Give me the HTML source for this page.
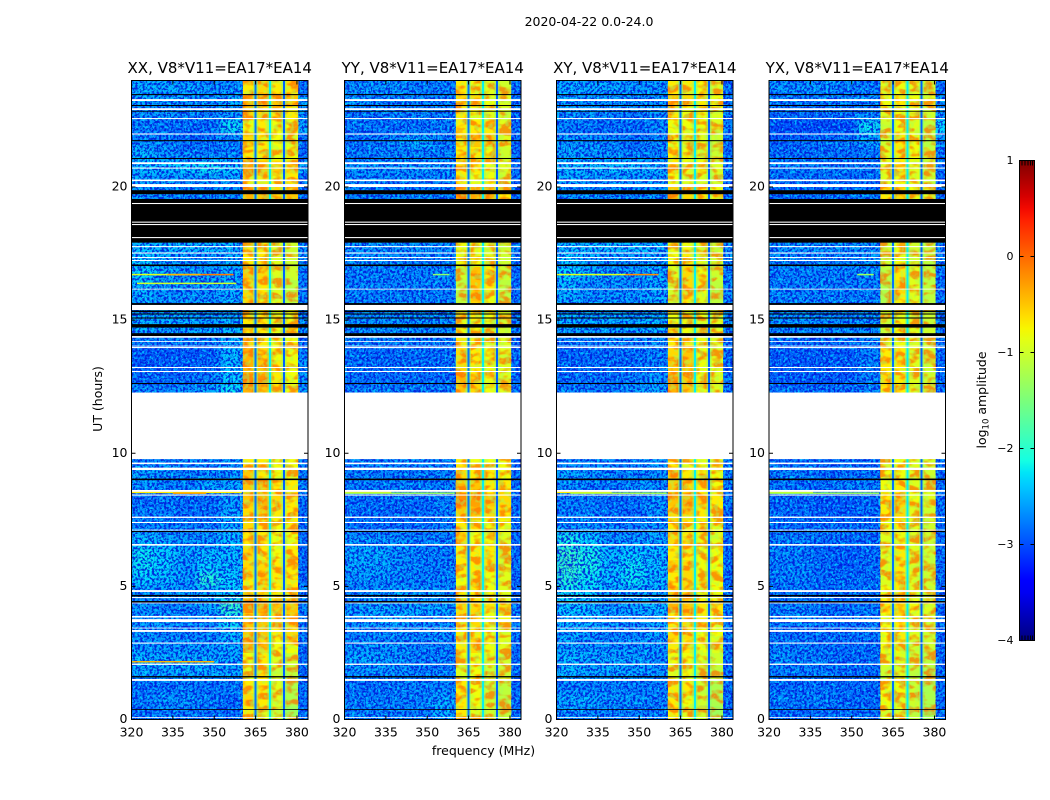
<!DOCTYPE html>
<html lang="en">
<head>
<meta charset="utf-8">
<title>2020-04-22 spectrogram panels</title>
<style>
html,body{margin:0;padding:0;background:#fff;width:1050px;height:800px;overflow:hidden}
svg{display:block;font-family:"DejaVu Sans","Liberation Sans",sans-serif;fill:#000}
</style>
</head>
<body>
<svg id="chart" xmlns="http://www.w3.org/2000/svg" width="1050" height="800" viewBox="0 0 1050 800">
<defs>
<filter id="speckDark" x="0" y="0" width="1" height="1" color-interpolation-filters="sRGB">
<feTurbulence type="fractalNoise" baseFrequency="0.42" numOctaves="2" seed="4"/>
<feColorMatrix type="matrix" values="0 0 0 0 0  0 0 0 0 0.08  0 0 0 0 0.85  6 0 0 0 -2.7"/>
</filter>
<filter id="speckLight" x="0" y="0" width="1" height="1" color-interpolation-filters="sRGB">
<feTurbulence type="fractalNoise" baseFrequency="0.38" numOctaves="2" seed="11"/>
<feColorMatrix type="matrix" values="0 0 0 0 0  0 0 0 0 0.85  0 0 0 0 1  0 6 0 0 -2.9"/>
</filter>
<filter id="blobOrange" x="0" y="0" width="1" height="1" color-interpolation-filters="sRGB">
<feTurbulence type="fractalNoise" baseFrequency="0.08 0.14" numOctaves="2" seed="7"/>
<feColorMatrix type="matrix" values="0 0 0 0 1  0 0 0 0 0.42  0 0 0 0 0  6 0 0 0 -2.7"/>
</filter>
<filter id="blobGreen" x="0" y="0" width="1" height="1" color-interpolation-filters="sRGB">
<feTurbulence type="fractalNoise" baseFrequency="0.2" numOctaves="2" seed="19"/>
<feColorMatrix type="matrix" values="0 0 0 0 0.65  0 0 0 0 1  0 0 0 0 0.35  0 6 0 0 -3"/>
</filter>
<filter id="smooth" x="-5%" y="-5%" width="110%" height="110%" color-interpolation-filters="sRGB">
<feGaussianBlur stdDeviation="3.2"/>
</filter>
<linearGradient id="jetGradient" x1="0" y1="1" x2="0" y2="0"></linearGradient>
</defs>
<text x="589" y="26" font-size="12.5" text-anchor="middle">2020-04-22 0.0-24.0</text>
<text x="483.500" y="755" font-size="12.5" text-anchor="middle">frequency (MHz)</text>
<text transform="translate(102,399) rotate(-90)" font-size="12.5" text-anchor="middle">UT (hours)</text>
<g id="panels"></g>
<g id="colorbar"></g>
</svg>
<script>
const panelNames = ["XX", "YY", "XY", "YX"];
const panelTitleSuffix = ", V8*V11=EA17*EA14";
const xTicks = [320, 335, 350, 365, 380];
const yTicks = [0, 5, 10, 15, 20];
const colorbarTicks = [1, 0, -1, -2, -3, -4];
const freqEdges = [320, 328, 336, 344, 352, 360.4, 365.2, 370.4, 375.5, 380.4, 384];
const notchFreqs = [365, 370.2, 375.3];
const notchLevels = [-2.8, -2.2, -2.9];
const notchShoulderLevel = -1.5;
const rowStartsUT = [23.5,23,22.5,22,21.5,21,20.5,20,19.5,17.5,17,16.5,16,15.5,15,14.5,14,13.5,13,12.5,12,9.5,9,8.5,8,7.5,7,6.5,6,5.5,5,4.5,4,3.5,3,2.5,2,1.5,1,0.5,0];
const rowSpanHours = 0.5;

const levelsXX = [
[-2.5,-2.5,-2.5,-2.6,-2.6,-0.7,-0.6,-0.7,-0.7,-2.8],
[-2.5,-2.6,-2.6,-2.6,-2.5,-0.4,-0.3,-0.5,-0.5,-2.5],
[-2.6,-2.6,-2.7,-2.7,-2.6,-0.6,-0.6,-0.7,-0.7,-2.6],
[-2.7,-2.8,-2.8,-2.8,-2.2,-0.8,-0.7,-0.8,-0.8,-2.5],
[-2.7,-2.7,-2.8,-2.8,-2.7,-0.6,-0.7,-0.8,-0.9,-2.8],
[-2.4,-2.6,-2.7,-2.7,-2.7,-0.7,-0.7,-0.8,-0.8,-2.8],
[-2.4,-2.4,-2.3,-2.2,-2.3,-0.3,-0.5,-0.6,-0.6,-2.5],
[-2.5,-2.6,-2.6,-2.6,-2.6,-0.7,-0.7,-0.8,-0.7,-2.8],
[-2.6,-2.6,-2.7,-2.7,-2.6,-0.4,-0.5,-0.6,-0.5,-2.8],
[-2.4,-2.4,-2.4,-2.4,-2.4,-0.7,-0.7,-0.9,-1.0,-2.6],
[-2.3,-2.5,-2.6,-2.6,-2.5,-0.7,-0.7,-0.9,-1.0,-2.6],
[-2.3,-2.5,-2.6,-2.6,-2.5,-0.5,-0.6,-0.9,-1.0,-2.7],
[-2.4,-2.6,-2.6,-2.6,-2.5,-0.6,-0.7,-0.9,-1.1,-2.7],
[-2.5,-2.6,-2.6,-2.6,-2.5,-0.6,-0.8,-0.9,-1.1,-2.7],
[-2.5,-2.5,-2.5,-2.6,-2.5,-0.6,-0.7,-0.8,-0.8,-2.7],
[-2.4,-2.5,-2.5,-2.5,-2.4,-0.7,-0.7,-0.8,-0.8,-2.6],
[-2.7,-2.7,-2.7,-2.7,-2.5,-0.6,-0.7,-0.8,-0.8,-2.8],
[-2.9,-2.9,-2.9,-2.9,-2.4,-0.4,-0.6,-0.8,-0.8,-2.7],
[-2.9,-2.9,-2.9,-2.8,-2.4,-0.4,-0.5,-0.7,-0.8,-2.6],
[-2.8,-2.8,-2.8,-2.7,-2.3,-0.2,-0.3,-0.7,-0.8,-2.6],
[-2.7,-2.7,-2.6,-2.5,-2.2,-0.4,-0.5,-0.7,-0.8,-2.6],
[-2.7,-2.7,-2.7,-2.7,-2.6,-0.7,-0.7,-0.8,-0.8,-2.7],
[-2.5,-2.6,-2.7,-2.7,-2.6,-0.5,-0.7,-0.8,-0.8,-2.7],
[-2.6,-2.7,-2.7,-2.5,-2.5,-0.5,-0.5,-0.7,-0.7,-2.7],
[-2.8,-2.7,-2.8,-2.8,-2.6,-0.5,-0.4,-0.6,-0.7,-2.7],
[-2.7,-2.7,-2.8,-2.8,-2.5,-0.6,-0.5,-0.7,-0.7,-2.8],
[-2.7,-2.7,-2.7,-2.7,-2.5,-0.6,-0.7,-0.8,-0.7,-2.8],
[-2.4,-2.5,-2.6,-2.6,-2.4,-0.7,-0.7,-0.8,-0.8,-2.8],
[-2.2,-2.3,-2.5,-2.4,-2.4,-0.6,-0.7,-0.8,-0.7,-2.8],
[-2.2,-2.3,-2.6,-2.3,-2.4,-0.6,-0.6,-0.7,-0.7,-2.8],
[-2.3,-2.4,-2.6,-2.0,-2.3,-0.7,-0.6,-0.7,-0.7,-2.8],
[-2.6,-2.6,-2.6,-2.5,-2.3,-0.6,-0.6,-0.7,-0.7,-2.7],
[-2.6,-2.7,-2.7,-2.5,-1.9,-0.2,-0.4,-0.5,-0.5,-2.7],
[-2.6,-2.5,-2.7,-2.6,-2.2,-0.5,-0.5,-0.6,-0.6,-2.7],
[-2.6,-2.7,-2.7,-2.7,-2.4,-0.5,-0.5,-0.7,-0.6,-2.7],
[-2.6,-2.6,-2.6,-2.6,-2.5,-0.4,-0.6,-0.8,-0.8,-2.8],
[-2.4,-2.5,-2.5,-2.5,-2.5,-0.8,-0.7,-0.9,-1.0,-2.8],
[-2.5,-2.5,-2.5,-2.5,-2.5,-0.9,-0.7,-1.0,-1.1,-2.8],
[-2.8,-2.8,-2.7,-2.8,-2.7,-0.7,-0.7,-0.9,-1.2,-2.8],
[-2.7,-2.6,-2.6,-2.7,-2.8,-0.6,-0.7,-0.9,-1.2,-2.8],
[-2.8,-2.7,-2.7,-2.8,-2.8,-0.7,-0.9,-1.0,-1.3,-2.8]
];
const levelsYY = [
[-2.6,-2.6,-2.6,-2.7,-2.7,-0.7,-0.8,-0.9,-1.0,-2.8],
[-2.6,-2.7,-2.7,-2.7,-2.7,-0.6,-0.6,-0.8,-0.9,-2.8],
[-2.7,-2.7,-2.7,-2.7,-2.7,-0.7,-0.8,-0.9,-1.0,-2.8],
[-2.7,-2.8,-2.8,-2.8,-2.7,-0.7,-0.7,-0.7,-0.9,-2.8],
[-2.8,-2.7,-2.6,-2.4,-2.7,-0.7,-0.5,-0.5,-0.9,-2.8],
[-2.7,-2.7,-2.7,-2.7,-2.7,-0.7,-0.7,-0.8,-1.0,-2.8],
[-2.6,-2.6,-2.6,-2.6,-2.6,-0.7,-0.7,-0.8,-0.9,-2.8],
[-2.7,-2.7,-2.7,-2.7,-2.7,-0.7,-0.8,-0.8,-1.0,-2.8],
[-2.7,-2.7,-2.7,-2.7,-2.7,-0.3,-0.4,-0.5,-0.7,-2.8],
[-2.6,-2.6,-2.6,-2.6,-2.6,-0.8,-0.8,-0.9,-1.0,-2.7],
[-2.6,-2.6,-2.7,-2.7,-2.7,-0.8,-0.8,-0.9,-1.0,-2.7],
[-2.7,-2.7,-2.7,-2.7,-2.6,-1.0,-0.5,-0.7,-1.0,-2.8],
[-2.7,-2.7,-2.7,-2.7,-2.7,-1.1,-0.5,-0.7,-1.1,-2.8],
[-2.7,-2.7,-2.7,-2.7,-2.7,-1.1,-0.6,-0.8,-1.1,-2.8],
[-2.6,-2.6,-2.6,-2.6,-2.6,-0.7,-0.7,-0.8,-0.9,-2.8],
[-2.6,-2.6,-2.6,-2.6,-2.6,-0.8,-0.8,-0.9,-1.0,-2.7],
[-2.7,-2.7,-2.7,-2.7,-2.7,-0.7,-0.7,-0.9,-0.9,-2.8],
[-2.8,-2.8,-2.8,-2.8,-2.8,-0.6,-0.7,-0.8,-0.9,-2.8],
[-2.8,-2.8,-2.8,-2.8,-2.8,-0.6,-0.7,-0.8,-0.9,-2.8],
[-2.8,-2.8,-2.8,-2.8,-2.8,-0.4,-0.6,-0.8,-0.9,-2.8],
[-2.7,-2.7,-2.7,-2.7,-2.7,-0.5,-0.6,-0.8,-0.9,-2.8],
[-2.7,-2.7,-2.7,-2.7,-2.7,-0.7,-0.8,-0.8,-0.8,-2.8],
[-2.7,-2.7,-2.7,-2.7,-2.7,-0.6,-0.7,-0.7,-0.8,-2.8],
[-2.7,-2.7,-2.7,-2.7,-2.7,-0.5,-0.5,-0.7,-0.7,-2.8],
[-2.8,-2.8,-2.8,-2.8,-2.7,-0.2,-0.3,-0.5,-0.6,-2.8],
[-2.8,-2.8,-2.8,-2.8,-2.7,-0.5,-0.5,-0.6,-0.7,-2.8],
[-2.8,-2.8,-2.8,-2.8,-2.7,-0.7,-0.7,-0.8,-0.8,-2.8],
[-2.6,-2.6,-2.6,-2.7,-2.7,-0.6,-0.8,-0.8,-0.9,-2.8],
[-2.5,-2.5,-2.6,-2.7,-2.7,-0.7,-0.7,-0.7,-0.9,-2.8],
[-2.5,-2.5,-2.6,-2.7,-2.7,-0.7,-0.7,-0.7,-0.9,-2.8],
[-2.6,-2.6,-2.7,-2.7,-2.7,-0.8,-0.7,-0.8,-0.9,-2.8],
[-2.7,-2.6,-2.5,-2.6,-2.6,-0.7,-0.7,-0.8,-0.9,-2.8],
[-2.6,-2.5,-2.6,-2.5,-2.5,-0.6,-0.6,-0.7,-0.8,-2.7],
[-2.6,-2.5,-2.4,-2.6,-2.6,-0.6,-0.6,-0.8,-0.8,-2.7],
[-2.7,-2.7,-2.7,-2.7,-2.6,-0.7,-0.7,-0.8,-0.9,-2.7],
[-2.6,-2.6,-2.6,-2.7,-2.7,-0.7,-0.6,-0.8,-0.9,-2.8],
[-2.5,-2.5,-2.6,-2.7,-2.7,-0.8,-0.8,-0.9,-1.0,-2.8],
[-2.6,-2.6,-2.6,-2.7,-2.7,-0.9,-0.8,-1.0,-1.0,-2.8],
[-2.8,-2.8,-2.7,-2.7,-2.7,-0.7,-0.8,-1.0,-1.1,-2.8],
[-2.7,-2.7,-2.7,-2.7,-2.5,-0.7,-0.8,-1.0,-1.1,-2.8],
[-2.7,-2.7,-2.7,-2.7,-2.5,-0.7,-0.9,-1.0,-1.1,-2.8]
];
const levelsXY = [
[-2.5,-2.5,-2.5,-2.6,-2.6,-0.7,-0.7,-0.8,-0.9,-2.8],
[-2.5,-2.6,-2.6,-2.6,-2.6,-0.5,-0.6,-0.7,-0.8,-2.7],
[-2.6,-2.6,-2.7,-2.7,-2.6,-0.7,-0.8,-0.8,-0.9,-2.7],
[-2.7,-2.8,-2.8,-2.8,-2.7,-0.8,-0.8,-0.8,-0.9,-2.7],
[-2.6,-2.6,-2.7,-2.8,-2.7,-0.8,-0.9,-0.9,-1.0,-2.8],
[-2.5,-2.6,-2.6,-2.7,-2.7,-0.7,-0.8,-0.9,-1.0,-2.8],
[-2.4,-2.4,-2.4,-2.4,-2.5,-0.7,-0.8,-0.8,-0.9,-2.7],
[-2.5,-2.6,-2.6,-2.6,-2.6,-0.8,-0.9,-0.9,-1.0,-2.8],
[-2.6,-2.6,-2.7,-2.7,-2.6,-0.5,-0.6,-0.7,-0.8,-2.8],
[-2.4,-2.4,-2.4,-2.4,-2.4,-0.8,-0.8,-0.9,-1.0,-2.6],
[-2.3,-2.5,-2.6,-2.6,-2.5,-0.8,-0.7,-0.9,-1.0,-2.6],
[-2.3,-2.5,-2.6,-2.6,-2.5,-0.9,-0.6,-0.8,-1.0,-2.7],
[-2.4,-2.6,-2.6,-2.6,-2.5,-1.0,-0.6,-0.8,-1.1,-2.7],
[-2.5,-2.6,-2.6,-2.6,-2.5,-1.0,-0.7,-0.9,-1.1,-2.7],
[-2.5,-2.5,-2.5,-2.6,-2.5,-0.8,-0.8,-0.8,-0.9,-2.7],
[-2.4,-2.5,-2.5,-2.5,-2.4,-0.8,-0.8,-0.9,-0.9,-2.6],
[-2.7,-2.7,-2.7,-2.7,-2.6,-0.7,-0.7,-0.8,-0.9,-2.8],
[-2.9,-2.8,-2.8,-2.8,-2.7,-0.6,-0.5,-0.8,-0.9,-2.8],
[-2.8,-2.8,-2.8,-2.8,-2.7,-0.5,-0.5,-0.8,-0.9,-2.8],
[-2.8,-2.8,-2.8,-2.7,-2.6,-0.3,-0.5,-0.8,-0.9,-2.7],
[-2.7,-2.7,-2.7,-2.6,-2.5,-0.4,-0.5,-0.8,-0.9,-2.7],
[-2.7,-2.7,-2.7,-2.7,-2.6,-0.7,-0.8,-0.8,-0.8,-2.7],
[-2.5,-2.6,-2.7,-2.7,-2.6,-0.5,-0.7,-0.8,-0.8,-2.7],
[-2.6,-2.7,-2.7,-2.6,-2.6,-0.5,-0.6,-0.7,-0.8,-2.7],
[-2.7,-2.7,-2.8,-2.8,-2.6,-0.5,-0.4,-0.6,-0.7,-2.7],
[-2.7,-2.7,-2.8,-2.8,-2.6,-0.6,-0.6,-0.7,-0.8,-2.8],
[-2.6,-2.6,-2.7,-2.7,-2.6,-0.7,-0.7,-0.8,-0.8,-2.8],
[-2.1,-2.3,-2.6,-2.6,-2.5,-0.6,-0.7,-0.8,-0.9,-2.8],
[-1.9,-2.1,-2.4,-2.3,-2.4,-0.7,-0.7,-0.8,-0.8,-2.8],
[-1.9,-2.1,-2.4,-2.2,-2.4,-0.6,-0.6,-0.8,-0.8,-2.8],
[-2.0,-2.2,-2.4,-2.2,-2.4,-0.7,-0.6,-0.8,-0.8,-2.8],
[-2.2,-2.3,-2.5,-2.5,-2.5,-0.5,-0.6,-0.8,-0.8,-2.7],
[-2.3,-2.4,-2.6,-2.5,-2.4,-0.4,-0.5,-0.7,-0.7,-2.7],
[-2.4,-2.4,-2.6,-2.6,-2.5,-0.7,-0.6,-0.7,-0.8,-2.7],
[-2.5,-2.6,-2.7,-2.7,-2.5,-0.6,-0.6,-0.8,-0.8,-2.7],
[-2.5,-2.6,-2.6,-2.6,-2.6,-0.7,-0.7,-0.8,-0.9,-2.8],
[-2.4,-2.5,-2.5,-2.5,-2.6,-0.8,-0.8,-0.9,-1.0,-2.8],
[-2.4,-2.5,-2.5,-2.5,-2.6,-0.9,-0.8,-1.0,-1.1,-2.8],
[-2.7,-2.7,-2.7,-2.7,-2.7,-0.7,-0.7,-1.0,-1.2,-2.8],
[-2.5,-2.5,-2.6,-2.6,-2.7,-0.7,-0.8,-1.0,-1.2,-2.8],
[-2.6,-2.6,-2.7,-2.7,-2.7,-0.7,-0.9,-1.0,-1.3,-2.8]
];
const levelsYX = [
[-2.6,-2.6,-2.6,-2.7,-2.7,-0.9,-0.8,-0.9,-1.0,-2.8],
[-2.7,-2.7,-2.7,-2.7,-2.6,-0.8,-0.7,-0.8,-0.9,-2.6],
[-2.8,-2.8,-2.8,-2.8,-2.7,-0.9,-0.8,-0.9,-1.0,-2.6],
[-3.0,-3.0,-3.0,-3.0,-2.2,-1.0,-0.8,-0.9,-1.1,-2.3],
[-2.9,-2.8,-2.8,-2.7,-2.5,-1.0,-0.7,-0.8,-1.1,-2.6],
[-2.8,-2.8,-2.8,-2.8,-2.8,-0.9,-0.7,-0.8,-1.0,-2.8],
[-2.7,-2.7,-2.7,-2.7,-2.7,-0.9,-0.7,-0.9,-1.0,-2.8],
[-2.8,-2.8,-2.8,-2.8,-2.8,-0.9,-0.8,-0.9,-1.0,-2.8],
[-2.8,-2.8,-2.8,-2.8,-2.7,-0.7,-0.6,-0.8,-0.9,-2.8],
[-2.6,-2.6,-2.6,-2.6,-2.6,-1.0,-0.8,-1.0,-1.1,-2.7],
[-2.6,-2.7,-2.7,-2.7,-2.6,-1.0,-0.8,-1.0,-1.1,-2.7],
[-2.7,-2.7,-2.7,-2.7,-2.6,-1.1,-0.7,-0.9,-1.1,-2.8],
[-2.7,-2.7,-2.7,-2.7,-2.7,-1.2,-0.6,-0.9,-1.1,-2.8],
[-2.7,-2.7,-2.7,-2.7,-2.7,-1.2,-0.7,-0.9,-1.1,-2.8],
[-2.6,-2.6,-2.7,-2.7,-2.6,-0.9,-0.8,-0.9,-1.0,-2.8],
[-2.6,-2.6,-2.6,-2.6,-2.6,-1.0,-0.8,-0.9,-1.0,-2.7],
[-2.8,-2.8,-2.8,-2.8,-2.7,-0.9,-0.8,-0.9,-1.0,-2.8],
[-2.9,-2.9,-2.9,-2.9,-2.7,-0.7,-0.7,-0.9,-1.0,-2.8],
[-2.9,-2.9,-2.9,-2.9,-2.7,-0.7,-0.7,-0.9,-1.0,-2.8],
[-2.9,-2.9,-2.9,-2.9,-2.7,-0.6,-0.7,-0.9,-1.0,-2.8],
[-2.8,-2.8,-2.8,-2.8,-2.7,-0.7,-0.7,-0.9,-1.0,-2.8],
[-2.8,-2.8,-2.8,-2.8,-2.8,-0.9,-0.8,-0.9,-1.0,-2.8],
[-2.7,-2.7,-2.8,-2.8,-2.8,-0.8,-0.8,-0.9,-1.0,-2.8],
[-2.7,-2.8,-2.8,-2.7,-2.7,-0.8,-0.7,-0.9,-1.0,-2.8],
[-2.8,-2.8,-2.9,-2.9,-2.8,-0.7,-0.6,-0.8,-0.9,-2.8],
[-2.8,-2.8,-2.9,-2.9,-2.8,-0.7,-0.6,-0.9,-1.0,-2.8],
[-2.8,-2.8,-2.8,-2.8,-2.8,-0.8,-0.7,-0.9,-1.0,-2.8],
[-2.7,-2.7,-2.8,-2.8,-2.8,-0.9,-0.8,-0.9,-1.0,-2.8],
[-2.7,-2.7,-2.8,-2.9,-2.8,-0.9,-0.7,-0.9,-1.0,-2.8],
[-2.7,-2.7,-2.8,-2.9,-2.8,-0.9,-0.7,-0.9,-1.0,-2.8],
[-2.7,-2.7,-2.8,-2.8,-2.8,-0.9,-0.7,-0.9,-1.0,-2.8],
[-2.8,-2.7,-2.8,-2.8,-2.8,-0.8,-0.7,-0.9,-1.0,-2.8],
[-2.7,-2.7,-2.8,-2.8,-2.7,-0.7,-0.6,-0.8,-0.9,-2.8],
[-2.7,-2.6,-2.7,-2.8,-2.7,-0.8,-0.7,-0.9,-1.0,-2.8],
[-2.8,-2.8,-2.8,-2.8,-2.7,-0.8,-0.7,-0.9,-1.0,-2.8],
[-2.7,-2.7,-2.8,-2.8,-2.8,-0.8,-0.8,-1.0,-1.0,-2.8],
[-2.6,-2.7,-2.7,-2.8,-2.8,-0.9,-0.9,-1.0,-1.1,-2.8],
[-2.7,-2.7,-2.7,-2.8,-2.8,-1.0,-0.9,-1.1,-1.2,-2.8],
[-2.8,-2.8,-2.8,-2.8,-2.8,-0.8,-0.8,-1.0,-1.2,-2.8],
[-2.7,-2.7,-2.7,-2.8,-2.8,-0.8,-0.9,-1.0,-1.2,-2.8],
[-2.8,-2.8,-2.8,-2.8,-2.8,-0.9,-0.9,-1.1,-1.3,-2.8]
];
const panelLevels = [levelsXX, levelsYY, levelsXY, levelsYX];

/* flagged time ranges: start UT, end UT */
const whiteRangesStart = [23.30,22.96,22.59,22.01,20.93,20.73,20.28,20.11,19.40,18.70,18.61,18.12,17.78,17.54,17.37,17.26,16.18,15.57,14.40,14.21,14.04,13.99,13.24,13.09,12.28,9.65,9.46,8.62,8.45,7.62,7.42,7.13,6.59,4.86,4.60,4.39,3.89,3.77,3.45,3.36,2.89,2.10,1.52,0.09];
const whiteRangesEnd = [23.23,22.89,22.55,21.97,20.86,20.69,20.22,20.00,19.36,18.66,18.57,18.08,17.74,17.50,17.33,17.22,16.15,15.38,14.34,14.18,14.01,13.95,13.20,13.05,9.78,9.59,9.37,8.55,8.41,7.57,7.38,7.10,6.53,4.79,4.56,4.36,3.83,3.66,3.42,3.29,2.85,2.05,1.45,0.06];
const blackRangesStart = [23.49,23.08,22.86,21.76,21.09,19.88,19.55,17.09,15.64,15.36,15.25,15.10,14.85,14.51,12.64,9.05,7.08,4.68,4.45,1.63,0.39];
const blackRangesEnd = [23.45,23.04,22.83,21.72,21.05,19.73,17.91,17.03,15.57,15.30,15.21,15.06,14.72,14.40,12.60,8.99,7.04,4.62,4.39,1.58,0.36];

/* narrow interference lines: panel index, UT, start MHz, end MHz, log amplitude */
const rfiPanel = [0,0,0,0,0,0,1,1,1,2,2,2,2,3,3,3,0];
const rfiUT = [16.71,16.71,16.38,8.53,8.50,2.17,16.71,8.53,8.50,16.71,16.71,8.53,8.50,16.71,8.53,8.50,16.71];
const rfiStart = [320,345,322,320,335,320,352,320,320,320,345,320,325,352,320,320,333];
const rfiEnd = [345,357,358,360,347,350,358,337,360,345,357,340,360,358,336,360,345];
const rfiLevel = [-0.9,-0.1,-1.0,-0.7,-0.3,-0.4,-1.4,-0.7,-1.3,-0.9,-0.2,-0.7,-1.2,-1.3,-0.8,-1.3,-0.4];

const svgNS = "http://www.w3.org/2000/svg";
const plotLefts = [131.5, 344.5, 556.5, 769];
const plotWidth = 176.5;
const plotTop = 80.5;
const plotBottom = 719.5;
const xMin = 320, xMax = 384, yMin = 0, yMax = 24;
const cbMin = -4, cbMax = 1, cbTop = 160.5, cbBottom = 640.5, cbLeft = 1019.5, cbRight = 1034.5;

function xScale(panel, mhz) { return plotLefts[panel] + (mhz - xMin) / (xMax - xMin) * plotWidth; }
function yScale(ut) { return plotBottom - (ut - yMin) / (yMax - yMin) * (plotBottom - plotTop); }
function cbScale(v) { return cbBottom - (v - cbMin) / (cbMax - cbMin) * (cbBottom - cbTop); }

function seg(t, pts) {
  for (let i = 1; i < pts.length; i++) {
    if (t <= pts[i][0]) {
      const a = pts[i - 1], b = pts[i];
      return a[1] + (b[1] - a[1]) * (t - a[0]) / (b[0] - a[0]);
    }
  }
  return pts[pts.length - 1][1];
}
function jet(t) {
  t = Math.max(0, Math.min(1, t));
  const r = seg(t, [[0,0],[0.35,0],[0.66,1],[0.89,1],[1,0.5]]);
  const g = seg(t, [[0,0],[0.125,0],[0.375,1],[0.64,1],[0.91,0],[1,0]]);
  const b = seg(t, [[0,0.5],[0.11,1],[0.34,1],[0.65,0],[1,0]]);
  return "rgb(" + Math.round(r * 255) + "," + Math.round(g * 255) + "," + Math.round(b * 255) + ")";
}
function levelColor(v) { return jet((v - cbMin) / (cbMax - cbMin)); }

function make(tag, attrs, parent) {
  const el = document.createElementNS(svgNS, tag);
  for (const k in attrs) el.setAttribute(k, attrs[k]);
  parent.appendChild(el);
  return el;
}
function tickLine(parent, x1, y1, x2, y2, stroke) {
  const ln = make("line", {x1: x1, y1: y1, x2: x2, y2: y2, stroke: stroke || "#000", "stroke-width": 1}, parent);
  
  
  return ln;
}
function textureRect(parent, p, f0, f1, filterId, opacity) {
  const tex = make("rect", {x: xScale(p, f0), y: plotTop, width: xScale(p, f1) - xScale(p, f0), height: plotBottom - plotTop, filter: "url(#" + filterId + ")", opacity: opacity}, parent);
  
  
}

const panelsRoot = document.getElementById("panels");
panelNames.forEach(function (name, p) {
  const g = make("g", {}, panelsRoot);
  
  
  const clipId = "clip" + p;
  const clip = make("clipPath", {id: clipId}, g);
  make("rect", {x: xScale(p, xMin), y: plotTop, width: plotWidth, height: plotBottom - plotTop}, clip);
  const body = make("g", {"clip-path": "url(#" + clipId + ")"}, g);

  const base = make("rect", {x: xScale(p, xMin), y: plotTop, width: plotWidth, height: plotBottom - plotTop, fill: levelColor(-2.75)}, body);
  
  

  const lowClip = make("clipPath", {id: "lowClip" + p}, g);
  make("rect", {x: xScale(p, xMin), y: plotTop, width: xScale(p, freqEdges[5]) - xScale(p, xMin), height: plotBottom - plotTop}, lowClip);
  const lowWrap = make("g", {"clip-path": "url(#lowClip" + p + ")"}, body);
  const low = make("g", {filter: "url(#smooth)"}, lowWrap);
  
  
  const high = make("g", {"shape-rendering": "crispEdges"}, body);
  
  

  panelLevels[p].forEach(function (row, r) {
    const y1 = yScale(rowStartsUT[r] + rowSpanHours);
    const y0 = yScale(rowStartsUT[r]);
    row.forEach(function (v, c) {
      const inLow = c < 5;
      const x0 = xScale(p, freqEdges[c]);
      const x1 = xScale(p, freqEdges[c + 1]);
      const cell = make("rect", {x: x0, y: y1, width: x1 - x0, height: y0 - y1, fill: levelColor(v)}, inLow ? low : high);
      
      
    });
  });

  textureRect(body, p, xMin, freqEdges[5], "speckLight", 0.7);
  textureRect(body, p, xMin, freqEdges[5], "speckDark", 0.85);
  textureRect(body, p, freqEdges[9], xMax, "speckLight", 0.6);
  textureRect(body, p, freqEdges[9], xMax, "speckDark", 0.85);
  textureRect(body, p, freqEdges[5], freqEdges[9], "blobOrange", 0.7);
  textureRect(body, p, freqEdges[5], freqEdges[9], "blobGreen", 0.45);

  notchFreqs.forEach(function (f, n) {
    rowStartsUT.forEach(function (s) {
      const yTop = yScale(s + rowSpanHours);
      const shoulder = make("rect", {x: xScale(p, f) - 2.4, y: yTop, width: 4.8, height: yScale(s) - yTop, fill: levelColor(notchShoulderLevel), opacity: 0.55, "shape-rendering": "crispEdges"}, body);
      
      
      const notch = make("rect", {x: xScale(p, f) - 0.9, y: yTop, width: 1.8, height: yScale(s) - yTop, fill: levelColor(notchLevels[n]), "shape-rendering": "crispEdges"}, body);
      
      
    });
  });

  rfiUT.forEach(function (ut, i) {
    if (rfiPanel[i] !== p) return;
    const line = make("rect", {x: xScale(p, rfiStart[i]), y: yScale(ut) - 0.75, width: xScale(p, rfiEnd[i]) - xScale(p, rfiStart[i]), height: 1.5, fill: levelColor(rfiLevel[i])}, body);
    
    
  });

  blackRangesStart.forEach(function (s, i) {
    const yA = yScale(s);
    const band = make("rect", {x: xScale(p, xMin), y: yA, width: plotWidth, height: yScale(blackRangesEnd[i]) - yA, fill: "#000"}, body);
    
    
  });
  whiteRangesStart.forEach(function (s, i) {
    const yA = yScale(s);
    const band = make("rect", {x: xScale(p, xMin), y: yA, width: plotWidth, height: yScale(whiteRangesEnd[i]) - yA, fill: "#fff"}, body);
    
    
  });

  const frame = make("rect", {x: plotLefts[p], y: plotTop, width: plotWidth, height: plotBottom - plotTop, fill: "none", stroke: "#000", "stroke-width": 1}, g);
  
  

  xTicks.forEach(function (t) {
    const x = xScale(p, t);
    tickLine(g, x, plotBottom, x, plotBottom - 4);
    tickLine(g, x, plotTop, x, plotTop + 4);
    const lab = make("text", {x: x, y: plotBottom + 17, "font-size": 12.5, "text-anchor": "middle"}, g);
    
    
    lab.textContent = t;
  });
  yTicks.forEach(function (t) {
    const y = yScale(t);
    tickLine(g, plotLefts[p], y, plotLefts[p] + 4, y);
    tickLine(g, plotLefts[p] + plotWidth, y, plotLefts[p] + plotWidth - 4, y);
    const lab = make("text", {x: plotLefts[p] - 4, y: y + 3.5, "font-size": 12.5, "text-anchor": "end"}, g);
    
    
    lab.textContent = t;
  });
  const title = make("text", {x: plotLefts[p] + plotWidth / 2, y: 73, "font-size": 15, "text-anchor": "middle"}, g);
  
  
  title.textContent = name + panelTitleSuffix;
});

/* colorbar */
const grad = document.getElementById("jetGradient");
for (let i = 0; i <= 40; i++) {
  make("stop", {offset: (i / 40), "stop-color": jet(i / 40)}, grad);
}
const cb = document.getElementById("colorbar");
const cbFill = make("rect", {x: cbLeft, y: cbTop, width: cbRight - cbLeft, height: cbBottom - cbTop, fill: "url(#jetGradient)", stroke: "#000", "stroke-width": 1}, cb);


colorbarTicks.forEach(function (t) {
  const y = cbScale(t);
  tickLine(cb, cbLeft, y, cbLeft + 4, y);
  tickLine(cb, cbRight, y, cbRight - 4, y);
  const lab = make("text", {x: cbLeft - 6, y: y + 3.5, "font-size": 11, "text-anchor": "end"}, cb);
  
  
  lab.textContent = String(t).replace("-", "\u2212");
});
const minorTickOffsets = [2.5, 5.5, 8.5, 11, 13];
minorTickOffsets.forEach(function (dx) {
  tickLine(cb, cbLeft + dx, cbTop, cbLeft + dx, cbTop + 5);
  tickLine(cb, cbLeft + dx, cbBottom, cbLeft + dx, cbBottom - 5);
});
const cbTitle = make("text", {transform: "translate(986,400) rotate(-90)", "font-size": 12.5, "text-anchor": "middle"}, cb);


cbTitle.innerHTML = 'log<tspan font-size="8.5" dy="2.5">10</tspan><tspan dy="-2.5"> amplitude</tspan>';
</script>
</body>
</html>
